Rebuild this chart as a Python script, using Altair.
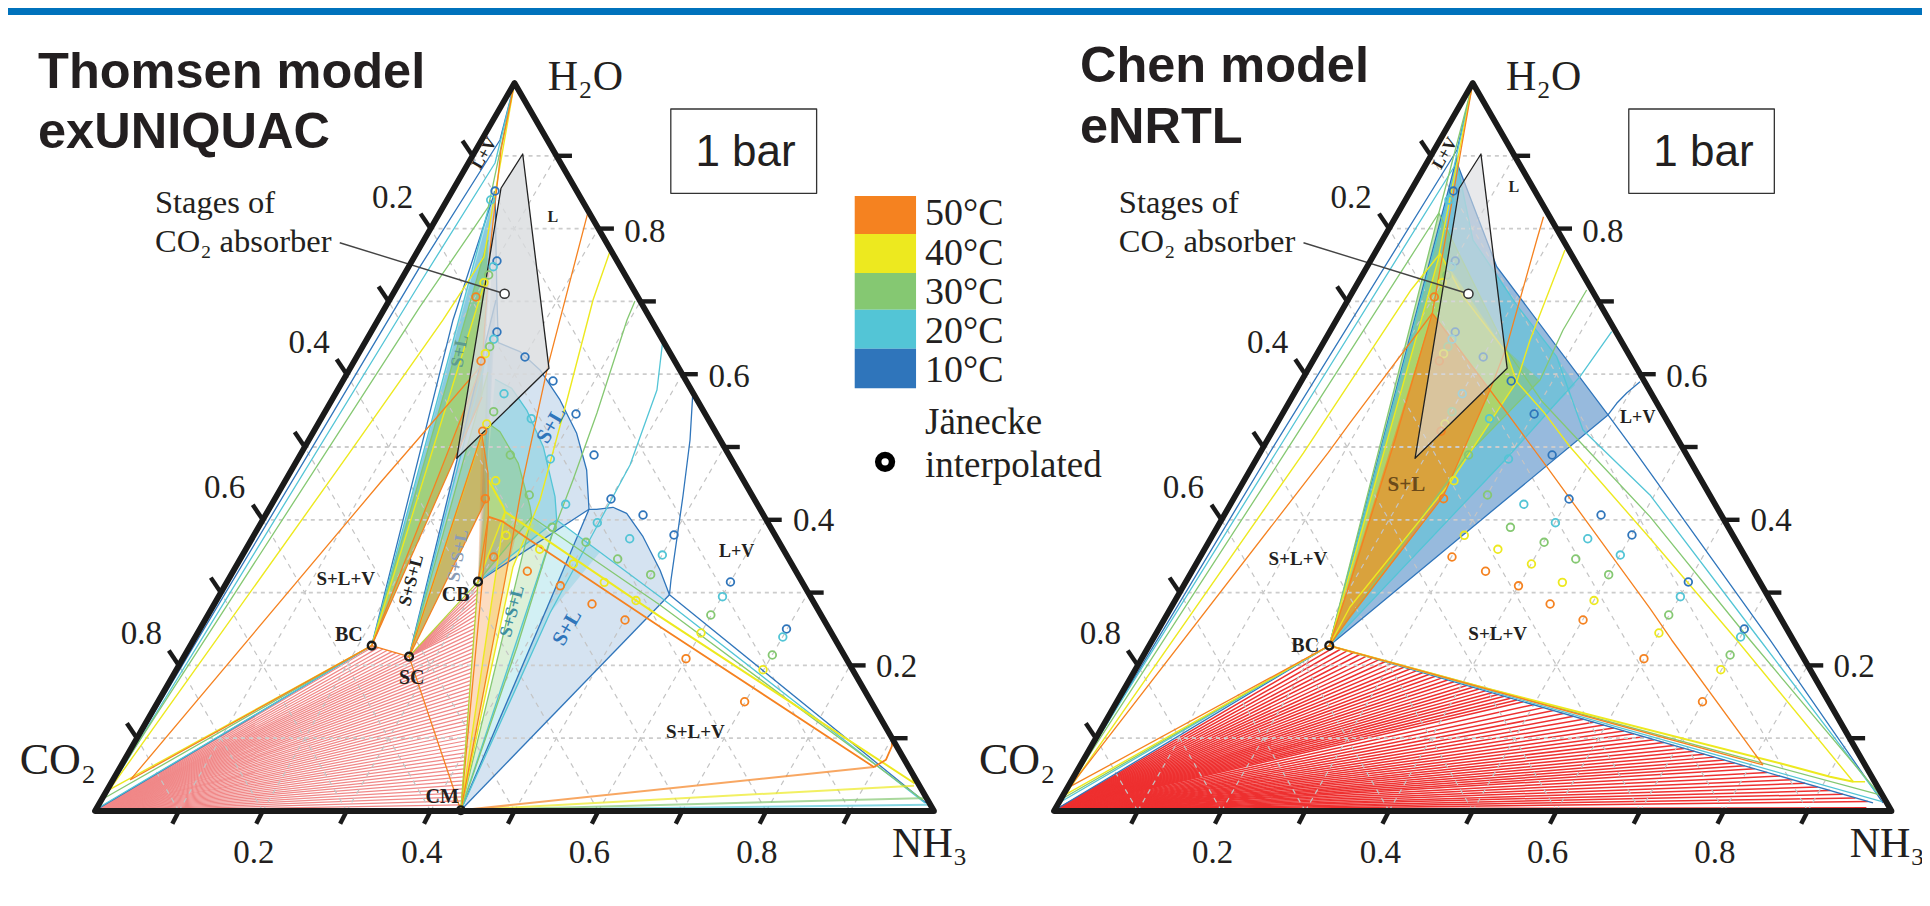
import altair as alt
import pandas as pd

# ---------- palette ----------
BLUE, CYAN, GREEN, YELLOW, ORANGE = "#2f75bb", "#53c5d6", "#85c872", "#ede91f", "#f58220"
TEMPS = ["50°C", "40°C", "30°C", "20°C", "10°C"]
TEMP_COLORS = [ORANGE, YELLOW, GREEN, CYAN, BLUE]

# All compositions are (b, w): b = NH3 + H2O/2 (ternary abscissa), w = H2O fraction
APEX = (0.5, 1.0)
BC = (0.3298, 0.2271)
SC = (0.3743, 0.2120)
CB = (0.4565, 0.3150)
CM = (0.436, 0.001)
BC_R = (0.3287, 0.2271)

# Jaenecke interpolated points, common to both panels
PTS_BLUE = [(.4768,.8516),(.4791,.7555),(.4791,.658),(.5125,.6236),(.5459,.5907),(.5733,.5453),(.5948,.489),(.615,.4286),(.6532,.4066),(.6901,.3791),(.7574,.3146),(.8242,.25)]
PTS_CYAN = [(.4716,.8393),(.4747,.7477),(.4752,.648),(.4875,.5732),(.52,.5389),(.5427,.4835),(.561,.4213),(.5987,.396),(.6373,.374),(.6762,.3516),(.7479,.2944),(.8198,.239)]
PTS_GREEN = [(.4692,.7363),(.4704,.6378),(.4752,.5485),(.495,.489),(.5176,.4341),(.545,.3897),(.5852,.3691),(.623,.3462),(.6623,.3246),(.734,.2692),(.8073,.2143)]
PTS_YELLOW = [(.4636,.7257),(.4652,.6282),(.4669,.5316),(.4776,.4537),(.4899,.3787),(.53,.3595),(.5701,.3393),(.607,.3141),(.6448,.2891),(.7223,.2445),(.7962,.1941)]
PTS_ORANGE = [(.4541,.706),(.4601,.6181),(.4621,.5216),(.4652,.429),(.4752,.3489),(.5153,.3293),(.5546,.3093),(.5924,.2843),(.6317,.2624),(.7044,.2092),(.7743,.1501)]
ABSORBER = [(.5098,.9025),(.4839,.8554),(.4311,.4845),(.5411,.6081)]

# ---------- left panel (Thomsen) curves ----------
L_OUT_B = [APEX,(.4827,.9217),(.3874,.7477),(.0012,.0014),BC]
L_OUT_C = [APEX,(.4768,.8901),(.3874,.7253),(.0036,.0041),BC]
L_OUT_G = [APEX,(.4688,.8297),(.3874,.6927),(.0077,.0155),BC]
L_OUT_Y = [APEX,(.4636,.761),(.4148,.6745),(.3033,.4918),(.0173,.0293),BC]
L_OUT_O = [APEX,(.4839,.908),(.4708,.7706),(.4613,.6126),(.3707,.4918),(.3397,.4505),(.0423,.043),BC]
L_B1 = {BLUE:[BC,(.4267,.6745),(.4768,.8516)], CYAN:[BC,(.4716,.8393)], GREEN:[BC,(.4684,.7843)], YELLOW:[BC,(.4672,.7363)], ORANGE:[BC,(.4613,.6126)]}
L_B1_RIGHT = (.4613,.5687)
L_B2 = {BLUE:[SC,(.4779,.7019)], CYAN:[SC,(.4744,.6607)], GREEN:[SC,(.4684,.603)], YELLOW:[SC,(.466,.5343)], ORANGE:[SC,(.4613,.5192)]}
L_B2_RIGHT = (.466,.4272)
L_TOP_B = [(.4768,.8516),(.4791,.7019),(.4807,.6433)]
L_LOBE_B = [(.4768,.8516),(.4791,.7019),(.4807,.6433),(.5066,.6309),(.5304,.6058),(.5542,.5646),(.5741,.5188),(.586,.4684),(.5888,.4144)]
L_LOBE2_B = [(.5888,.4144),(.598,.4144),(.6174,.4172),(.6337,.4089),(.6532,.3768),(.6734,.331),(.6847,.2971)]
L_LOBE_C = [(.4768,.593),(.4967,.5806),(.5145,.5508),(.5343,.5004),(.5483,.4317),(.5503,.3997)]
L_LOBE_G = [(.4688,.5326),(.4827,.521),(.5045,.4776),(.5185,.418),(.5205,.4038)]
L_LOBE_Y = [(.4688,.4547),(.4867,.418),(.4887,.4111)]
L_LOBE_O = [(.4609,.5188),(.4684,.4643),(.4688,.4043)]
L_TRI_B = [(.6847,.2971),(.9905,.011)]
L_TRI_C = [(.5503,.3997),(.6734,.2944),(.9893,.011)]
L_TRI_G = [(.5205,.4038),(.6734,.283),(.9869,.0151)]
L_TRI_Y = [(.4887,.4111),(.6734,.2669),(.9762,.0385),(.9726,.052)]
L_TRI_O = [(.4688,.4043),(.4863,.3974),(.5145,.375),(.6734,.2532),(.9283,.0604),(.9428,.0705),(.9499,.0893),(.9499,.0979)]
L_LV_B = [(.6847,.2971),(.6865,.3173),(.7008,.4327),(.7092,.5096),(.7124,.5714)]
L_LV_C = [(.6766,.6447),(.6698,.5783),(.6377,.4753),(.5959,.386),(.5423,.272),CM]
L_LV_G = [(.6436,.7005),(.6341,.6745),(.5983,.5467),(.5697,.4547),(.5447,.3791),(.503,.2253),CM]
L_LV_Y = [(.6144,.7706),(.5936,.7019),(.5626,.5646),(.5304,.4272),(.4982,.3352),CM]
L_LV_O = [(.5872,.821),(.5396,.6103),(.5101,.4547),(.4887,.3173),CM]
L_BASE = {ORANGE:(.9283,.0604), YELLOW:(.9762,.0348), GREEN:(.994,.0179), CYAN:(.994,.0087), BLUE:(.9976,.0027)}
# tie-line end heights read along the CM-CB edge, and fractions along SC-BC
L_FAN_W = [.003,.0085,.014,.0195,.025,.0305,.036,.0415,.047,.0525,.058,.0635,.069,.0745,.08,.0855,.091,.0965,.102,.1075,.113,.1185,.124,.1295,.135,.1405,.146,.1515,.157,.1625,.168,.1735,.179,.1845,.19,.1955,.201,.2065,.212,.2175,.223,.2285,.234,.2395,.245,.2505,.256]
L_SC_W = [.262,.268,.274,.28,.286,.292,.298,.304,.31]
L_BCSC_T = [.1,.22,.34,.46,.58,.7,.82,.94]

# ---------- right panel (Chen) curves ----------
R_OUT_B = [APEX,(.4812,.908),(.2574,.4918),(.0012,.0014),BC_R]
R_OUT_C = [APEX,(.4776,.8846),(.2648,.4918),(.0036,.0096),BC_R]
R_OUT_G = [APEX,(.4595,.8214),(.2758,.4918),(.0072,.0151),BC_R]
R_OUT_Y = [APEX,(.4595,.7637),(.4263,.7157),(.2979,.4918),(.0131,.022),BC_R]
R_OUT_O = [APEX,(.4517,.6837),(.3534,.533),(.3272,.4918),(.0191,.0334),BC_R]
R_TOP_B = [BC_R,(.4812,.8984),(.4812,.8901),(.5286,.7477),(.6615,.544),BC_R]
R_TRI_B = [(.6615,.544),(.6949,.4918),(.8549,.2349),(.9899,.011)]
R_LV_B = [(.6615,.544),(.6719,.56),(.6838,.5742),(.6997,.5897)]
R_LOW_B = [BC_R,(.9779,.011)]
R_TRI_C = [BC_R,(.4812,.8901),(.5003,.7843),(.5525,.695),(.6002,.624),(.6316,.5234),(.7116,.4341),(.843,.2349),(.9839,.022)]
R_LV_C = [(.6659,.6584),(.628,.5966),(.5922,.5508),(.5405,.4845),BC_R]
R_LOW_C = [BC_R,(.9887,.0128)]
R_TRI_G = [BC_R,(.4595,.8214),(.5405,.6332),(.5823,.5632),(.7116,.4043),(.831,.2349),(.9863,.022)]
R_LV_G = [(.636,.7157),(.6078,.6607),(.5803,.592),(.4928,.489),BC_R]
R_LOW_G = [BC_R,(.9863,.022)]
R_TRI_Y = [BC_R,(.4609,.7661),(.4887,.7065),(.5405,.6291),(.5525,.5897),(.5843,.5485),(.6161,.5004),(.7116,.3746),(.8152,.2349),(.9544,.0402),(.9684,.0402)]
R_LV_Y = [(.6101,.7706),(.5684,.647),(.5525,.5897),(.4728,.4505),(.3534,.2802),BC_R]
R_LOW_Y = [BC_R,(.5087,.1707),(.8669,.0655),(.9266,.0471),(.9544,.0402)]
R_TRI_O = [BC_R,(.3534,.3132),(.4072,.5096),(.4517,.6837),(.5206,.5783),(.5883,.4729),(.7116,.2784),(.7375,.2349),(.8466,.0632)]
R_LV_O = [(.5845,.8163),(.5764,.7843),(.5405,.6378),(.5206,.5783),(.4645,.4317),(.3534,.2669),BC_R]
R_LOW_O = [BC_R,(.8466,.0632)]
R_FILL_B = [BC_R,(.4812,.8984),(.4812,.8901),(.5286,.7477),(.6615,.544)]
R_FILL_C = [BC_R,(.4812,.8901),(.5003,.7843),(.5525,.695),(.6002,.624),(.6221,.5852),(.5922,.5508),(.5405,.4845)]
R_FILL_G = [BC_R,(.4595,.8214),(.5405,.6332),(.5803,.592),(.4928,.489)]
R_FILL_Y = [BC_R,(.4609,.7661),(.5405,.6291),(.5525,.5897),(.4728,.4505)]
R_FILL_O = [BC_R,(.4517,.6837),(.5206,.5783),(.4645,.4317)]
R_EDGE_END = (.9779,.011)
R_FAN_W = [.225,.2225,.22,.2175,.215,.2125,.21,.2075,.205,.2025,.2,.1975,.195,.1925,.19,.1875,.185,.1825,.18,.1775,.175,.1725,.17,.1675,.165,.1625,.16,.1575,.155,.1525,.15,.146,.142,.138,.134,.13,.126,.122,.118,.114,.11,.106,.102,.098,.094,.09,.086,.082,.078,.074,.07,.066,.062,.058,.053,.048,.043,.038,.033,.028,.023,.018,.013]

# ---------- canvas scales ----------
W, H = 1914, 880
XS = alt.Scale(domain=[-0.10369, 2.17759], nice=False, zero=False)
YS = alt.Scale(domain=[-0.10577, 1.10302], nice=False, zero=False)
X = alt.X("x:Q", scale=XS, axis=None)
Y = alt.Y("y:Q", scale=YS, axis=None)
OFFSET, FACTOR = 959 / 839, 837.5 / 839

def tx(panel, b):
    return b if panel == "L" else b * FACTOR + OFFSET

layers = []

def add_fill(panel, poly, color, opacity):
    levels = sorted({p[1] for p in poly})
    rows = []
    n = len(poly)
    for lv in levels:
        hits = []
        for i in range(n):
            (b0, w0), (b1, w1) = poly[i], poly[(i + 1) % n]
            lo, hi = min(w0, w1), max(w0, w1)
            if lo <= lv <= hi:
                if w0 == w1:
                    hits += [b0, b1]
                else:
                    hits.append(b0 + (lv - w0) / (w1 - w0) * (b1 - b0))
        rows.append({"x": tx(panel, min(hits)), "x2": tx(panel, max(hits)), "y": lv})
    layers.append(alt.Chart(pd.DataFrame(rows)).mark_area(color=color, opacity=opacity, orient="horizontal").encode(x=X, x2=alt.X2("x2:Q"), y=Y))

def add_lines(panel, paths, color, width=1.2, opacity=1.0):
    rows = []
    for k, path in enumerate(paths):
        for i, (b, w) in enumerate(path):
            rows.append({"x": tx(panel, b), "y": w, "id": k, "i": i})
    layers.append(alt.Chart(pd.DataFrame(rows)).mark_line(color=color, strokeWidth=width, opacity=opacity, strokeJoin="round").encode(x=X, y=Y, detail="id:N", order="i:Q"))

def add_rules(rows, color, width, dash=None, opacity=1.0, cap="butt"):
    kw = {"strokeDash": dash} if dash else {}
    layers.append(alt.Chart(pd.DataFrame(rows)).mark_rule(color=color, strokeWidth=width, opacity=opacity, strokeCap=cap, **kw).encode(x=X, x2=alt.X2("x2:Q"), y=Y, y2=alt.Y2("y2:Q")))

def seg(panel, p, q):
    return {"x": tx(panel, p[0]), "y": p[1], "x2": tx(panel, q[0]), "y2": q[1]}

def add_points(panel, pts, color, size, width, fill=None):
    df = pd.DataFrame({"x": [tx(panel, p[0]) for p in pts], "y": [p[1] for p in pts]})
    if fill:
        m = alt.Chart(df).mark_point(color=color, size=size, strokeWidth=width, filled=False, fill=fill, opacity=1, fillOpacity=1)
    else:
        m = alt.Chart(df).mark_point(color=color, size=size, strokeWidth=width, filled=False, opacity=1)
    layers.append(m.encode(x=X, y=Y))

def add_grid(panel):
    h, o = [], []
    for k in range(1, 10):
        f = k / 10
        h.append(seg(panel, (f / 2, f), (1 - f / 2, f)))
        o.append(seg(panel, (f, 0), (f + (1 - f) / 2, 1 - f)))
        o.append(seg(panel, (1 - f, 0), ((1 - f) / 2, 1 - f)))
    add_rules(o, "#c4c4c4", 1.2, [5, 5])
    add_rules(h, "#cccccc", 1.8, [4, 4])

def add_frame(panel):
    add_lines(panel, [[(0, 0), (1, 0), (.5, 1), (0, 0), (1, 0)]], "#1a1a1a", 5.8)
    t = []
    for k in range(1, 10):
        f = k / 10
        t.append(seg(panel, (f, 0), (f - .0078, -.0175)))
        t.append(seg(panel, (1 - f / 2, f), (1 - f / 2 + .0185, f)))
        t.append(seg(panel, (f / 2, f), (f / 2 - .012, f + .0206)))
    add_rules(t, "#1a1a1a", 4.4)

ALL_POINTS = [(PTS_BLUE, BLUE), (PTS_CYAN, CYAN), (PTS_GREEN, GREEN), (PTS_YELLOW, YELLOW), (PTS_ORANGE, ORANGE)]

# top band
layers.append(alt.Chart(pd.DataFrame({"a": [0]})).mark_rect(color="#0072bc").encode(x=alt.value(0), x2=alt.value(W), y=alt.value(0), y2=alt.value(7)))

# ====== LEFT PANEL ======
fan = [seg("L", (0, 0), (CM[0] + w / CB[1] * (CB[0] - CM[0]), w)) for w in L_FAN_W]
fan += [seg("L", SC, (CM[0] + w / CB[1] * (CB[0] - CM[0]), w)) for w in L_SC_W]
fan += [seg("L", (0, 0), (SC[0] + t * (BC[0] - SC[0]), SC[1] + t * (BC[1] - SC[1]))) for t in L_BCSC_T]
add_rules(fan, "#f08888", 1.25)
add_lines("L", [[(0, .0012), CM]], "#e86a6a", 2)

# bundle fills
for c, op in [(BLUE, .35), (CYAN, .45), (GREEN, .6), (YELLOW, .25), (ORANGE, .22)]:
    add_fill("L", [L_B1[c][0], L_B1[c][-1], L_B1_RIGHT], c, op)
for c, op in [(BLUE, .25), (CYAN, .3), (GREEN, .4), (YELLOW, .25), (ORANGE, .36)]:
    add_fill("L", [L_B2[c][0], L_B2[c][-1], L_B2_RIGHT], c, op)
# lobes
add_fill("L", L_LOBE_B + [CB], BLUE, .2)
add_fill("L", L_LOBE2_B + [CM], BLUE, .2)
add_fill("L", L_LOBE_C + [CB], CYAN, .36)
add_fill("L", L_LOBE_G + [CB], GREEN, .42)
add_fill("L", L_LOBE_Y + [CB], YELLOW, .3)
add_fill("L", L_LOBE_O + [CB], ORANGE, .28)
add_fill("L", [CM, (.5503,.3997), (.6019,.3558), (.5423,.272)], CYAN, .26)
add_fill("L", [CM, (.5205,.4038), (.5447,.3791), (.503,.2253)], GREEN, .28)
add_fill("L", [CM, (.4887,.4111), (.5244,.3929), (.4982,.3352)], YELLOW, .28)
add_fill("L", [CM, CB, (.4688,.4043), (.4863,.3974), (.503,.3846), (.4887,.3173)], ORANGE, .28)
add_grid("L")
# curves
add_lines("L", [L_OUT_B, L_B1[BLUE], L_B2[BLUE], L_TOP_B], BLUE, 1.3)
add_lines("L", [L_LOBE_B[2:], L_LOBE2_B, L_TRI_B, L_LV_B, [(.5888,.4144), CM], [(.6847,.2971), CM], [(.5888,.4144), CB]], BLUE, 1.3)
add_lines("L", [L_OUT_C, L_B1[CYAN], L_B2[CYAN], L_LOBE_C, L_TRI_C, L_LV_C, [(.5503,.3997), CM], [(.5503,.3997), CB]], CYAN, 1.3)
add_lines("L", [L_OUT_G, L_B1[GREEN], L_B2[GREEN], L_LOBE_G, L_TRI_G, L_LV_G, [(.5205,.4038), CM], [(.5205,.4038), CB]], GREEN, 1.3)
add_lines("L", [L_OUT_Y, L_B1[YELLOW], L_B2[YELLOW], L_LV_Y, [(.4887,.4111), CM], [(.4887,.4111), CB]], YELLOW, 1.4)
add_lines("L", [L_LOBE_Y, L_TRI_Y], YELLOW, 2)
add_lines("L", [L_OUT_O, L_B1[ORANGE], [BC, L_B1_RIGHT], L_B2[ORANGE], [SC, L_B2_RIGHT], L_LOBE_O, L_LV_O, [(.4688,.4043), CM], [(.4688,.4043), CB], [BC, SC], [SC, CM]], ORANGE, 1.3)
add_lines("L", [L_TRI_O], ORANGE, 1.8)
add_lines("L", [[SC, CB], [CB, CM]], "#b5d334", 1.3)
for c in [BLUE, CYAN, GREEN, YELLOW, ORANGE]:
    add_lines("L", [[CM, L_BASE[c]]], c, 2, .7)
# absorber polygon under the markers in this panel
add_fill("L", ABSORBER, "#d9dbde", .78)
add_lines("L", [ABSORBER + ABSORBER[:2]], "#222222", 1.3)
for pts, c in ALL_POINTS:
    add_points("L", pts, c, 58, 1.8)
add_rules([seg("L", (.2917, .7806), (.4882, .7105))], "#444444", 1.4)
add_points("L", [(.4882, .7105)], "#333333", 85, 1.5, fill="white")
add_points("L", [BC, SC, CB, CM], "#1a1a1a", 60, 2.4)
add_frame("L")

# ====== RIGHT PANEL ======
fan = [seg("R", (0, 0), (BC_R[0] + (w - BC_R[1]) / (R_EDGE_END[1] - BC_R[1]) * (R_EDGE_END[0] - BC_R[0]), w)) for w in R_FAN_W]
add_rules(fan, "#ee3030", 1.5)
add_lines("R", [[(0, .002), (.97, .004)]], "#ee3030", 2.2)
add_fill("R", R_FILL_B, BLUE, .5)
add_fill("R", R_FILL_C, CYAN, .5)
add_fill("R", R_FILL_G, GREEN, .5)
add_fill("R", R_FILL_Y, YELLOW, .42)
add_fill("R", R_FILL_O, ORANGE, .62)
add_grid("R")
add_lines("R", [R_OUT_B, R_TOP_B, R_TRI_B, R_LV_B, R_LOW_B], BLUE, 1.3)
add_lines("R", [R_OUT_C, R_TRI_C, R_LV_C, R_LOW_C], CYAN, 1.3)
add_lines("R", [R_OUT_G, R_TRI_G, R_LV_G, R_LOW_G], GREEN, 1.3)
add_lines("R", [R_OUT_Y, R_TRI_Y, R_LV_Y], YELLOW, 1.4)
add_lines("R", [R_LOW_Y], YELLOW, 2)
add_lines("R", [R_OUT_O, R_TRI_O, R_LV_O, R_LOW_O], ORANGE, 1.3)
for pts, c in ALL_POINTS:
    add_points("R", pts, c, 58, 1.8)
add_fill("R", ABSORBER, "#d9dbde", .6)
add_lines("R", [ABSORBER + ABSORBER[:2]], "#222222", 1.3)
add_rules([seg("R", (.2979, .7806), (.4948, .7105))], "#444444", 1.4)
add_points("R", [(.4948, .7105)], "#333333", 85, 1.5, fill="white")
add_points("R", [BC_R], "#1a1a1a", 60, 2.4)
add_frame("R")

# ====== boxes, legend ======
BOX = [(.6863, .9643), (.8601, .9643), (.8601, .8485), (.6863, .8485), (.6863, .9643), (.8601, .9643)]
add_lines("L", [BOX], "#333333", 1.3)
add_lines("R", [BOX], "#333333", 1.3)
LEG_W = [.8448, .7926, .739, .6886, .635, .5806]
layers.append(alt.Chart(pd.DataFrame({"x": [.9055] * 5, "x2": [.9786] * 5, "y": LEG_W[:5], "y2": LEG_W[1:], "c": TEMP_COLORS})).mark_rect().encode(
    x=X, x2=alt.X2("x2:Q"), y=Y, y2=alt.Y2("y2:Q"), color=alt.Color("c:N", scale=None, legend=None)))
add_points("L", [(.9417, .4796)], "#000000", 190, 6.5)

# ====== text ======
SERIF, SANS = "Liberation Serif", "Liberation Sans"
INK = "#231f20"
# panel, text, b, w, size, font, weight, color, angle, align
LABELS = [
    ("L", "Thomsen model", -.0679, .9931, 50.5, SANS, "bold", INK, 0, "left"),
    ("L", "exUNIQUAC", -.0679, .9107, 50.5, SANS, "bold", INK, 0, "left"),
    ("R", "Chen model", .031, 1.001, 50.5, SANS, "bold", INK, 0, "left"),
    ("R", "eNRTL", .031, .9172, 50.5, SANS, "bold", INK, 0, "left"),
    ("L", "Stages of", .0715, .8214, 32.5, SERIF, "normal", INK, 0, "left"),
    ("L", "CO₂ absorber", .0715, .7683, 32.5, SERIF, "normal", INK, 0, "left"),
    ("R", "Stages of", .0774, .8214, 32.5, SERIF, "normal", INK, 0, "left"),
    ("R", "CO₂ absorber", .0774, .7683, 32.5, SERIF, "normal", INK, 0, "left"),
    ("L", "L", .5456, .8085, 16, SERIF, "bold", INK, 0, "center"),
    ("L", "L+V", .4694, .9, 17, SERIF, "bold", INK, 300, "center"),
    ("L", "S+L+V", .2989, .3104, 19, SERIF, "bold", INK, 0, "center"),
    ("L", "S+S+L", .3834, .315, 18, SERIF, "bold", INK, 285, "center"),
    ("L", "CB", .4299, .2885, 20, SERIF, "bold", INK, 0, "center"),
    ("L", "SC", .3775, .1745, 20, SERIF, "bold", INK, 0, "center"),
    ("L", "BC", .3026, .2335, 20, SERIF, "bold", INK, 0, "center"),
    ("L", "CM", .4137, .011, 20, SERIF, "bold", INK, 0, "center"),
    ("L", "L+V", .7647, .3489, 18, SERIF, "bold", INK, 0, "center"),
    ("L", "S+L+V", .7156, .1003, 19, SERIF, "bold", INK, 0, "center"),
    ("L", "S+L", .5504, .5255, 21, SERIF, "bold", BLUE, 300, "center"),
    ("L", "S+L", .5692, .2475, 21, SERIF, "bold", BLUE, 300, "center"),
    ("L", "S+L", .4411, .6305, 18, SERIF, "bold", "#5d9b8f", 280, "center"),
    ("L", "S+S+L", .4391, .3495, 18, SERIF, "bold", "#8a9bb5", 280, "center"),
    ("L", "S+S+L", .5034, .2725, 18, SERIF, "bold", "#3f8f9f", 285, "center"),
    ("R", "L", .5491, .85, 16, SERIF, "bold", INK, 0, "center"),
    ("R", "L+V", .4719, .9, 17, SERIF, "bold", INK, 300, "center"),
    ("R", "L+V", .6970, .5335, 18, SERIF, "bold", INK, 0, "center"),
    ("R", "S+L", .4208, .4395, 21, SERIF, "bold", "#6b4a1a", 0, "center"),
    ("R", "S+L+V", .2912, .3385, 19, SERIF, "bold", INK, 0, "center"),
    ("R", "S+L+V", .5297, .2355, 19, SERIF, "bold", INK, 0, "center"),
    ("R", "BC", .3, .2184, 20, SERIF, "bold", INK, 0, "center"),
]
LABELS.append(("L", "CO₂", -.0897, .0515, 44, SERIF, "normal", INK, 0, "left"))
LABELS.append(("R", "CO₂", -.0897, .0515, 44, SERIF, "normal", INK, 0, "left"))
for p in ["L", "R"]:
    LABELS += [
        (p, "H₂O", .5396, .9904, 42, SERIF, "normal", INK, 0, "left"),
        (p, "NH₃", .95, -.0632, 42, SERIF, "normal", INK, 0, "left"),
        (p, "1 bar", .7156, .8864, 44, SANS, "normal", INK, 0, "left"),
        (p, "0.2", .3547, .8283, 33, SERIF, "normal", INK, 0, "center"),
        (p, "0.4", .2551, .6291, 33, SERIF, "normal", INK, 0, "center"),
        (p, "0.6", .1545, .4299, 33, SERIF, "normal", INK, 0, "center"),
        (p, "0.8", .0554, .2298, 33, SERIF, "normal", INK, 0, "center"),
        (p, "0.8", .6555, .782, 33, SERIF, "normal", INK, 0, "center"),
        (p, "0.6", .7557, .5828, 33, SERIF, "normal", INK, 0, "center"),
        (p, "0.4", .8564, .3842, 33, SERIF, "normal", INK, 0, "center"),
        (p, "0.2", .9554, .1841, 33, SERIF, "normal", INK, 0, "center"),
        (p, "0.2", .1895, -.0714, 33, SERIF, "normal", INK, 0, "center"),
        (p, "0.4", .3897, -.0714, 33, SERIF, "normal", INK, 0, "center"),
        (p, "0.6", .5893, -.0714, 33, SERIF, "normal", INK, 0, "center"),
        (p, "0.8", .789, -.0714, 33, SERIF, "normal", INK, 0, "center"),
    ]
LEG_TEXT_W = [.8048, .7505, .696, .6433, .5898]
for t, w in zip(TEMPS, LEG_TEXT_W):
    LABELS.append(("L", t, .9893, w, 38, SERIF, "normal", INK, 0, "left"))
LABELS.append(("L", "Jänecke", .9893, .5179, 37, SERIF, "normal", INK, 0, "left"))
LABELS.append(("L", "interpolated", .9893, .4592, 37, SERIF, "normal", INK, 0, "left"))

groups = {}
for p, t, b, w, s, f, wt, c, a, al in LABELS:
    groups.setdefault((f, wt, al, s, c, a), []).append({"x": tx(p, b), "y": w, "t": t})
for (f, wt, al, s, c, a), rows in groups.items():
    layers.append(alt.Chart(pd.DataFrame(rows)).mark_text(font=f, fontWeight=wt, align=al, baseline="alphabetic", fontSize=s, color=c, angle=a).encode(x=X, y=Y, text="t:N"))

chart = alt.layer(*layers).properties(
    width=W, height=H, padding=0, autosize=alt.AutoSizeParams(type="none")
).configure_view(stroke=None)
chart.save("out.html", embed_options={"renderer": "svg", "actions": False})
